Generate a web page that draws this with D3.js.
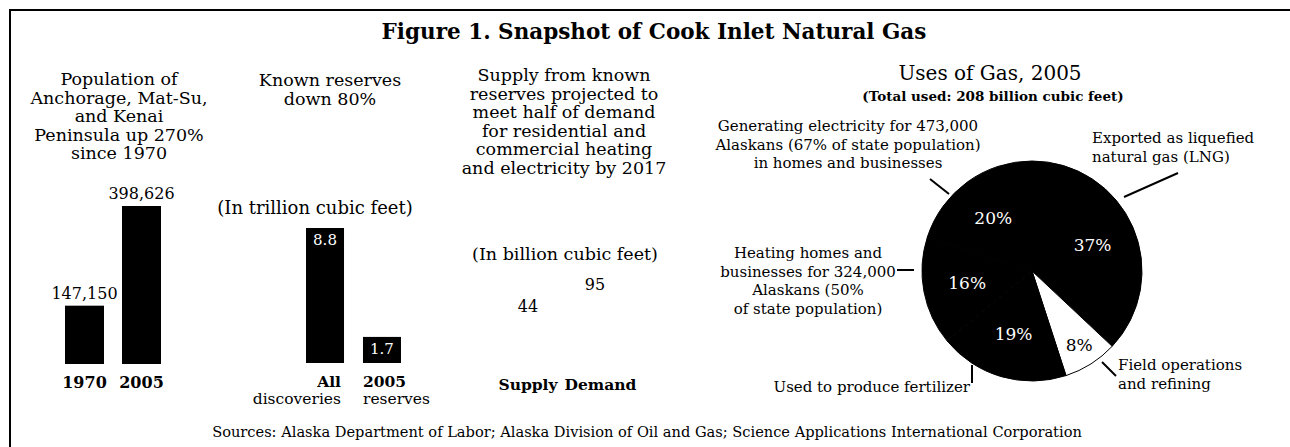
<!DOCTYPE html>
<html>
<head>
<meta charset="utf-8">
<script src="https://cdn.jsdelivr.net/npm/d3@7"></script>
<style>
  body { margin: 0; background: #fff; }
  svg text { font-family: "DejaVu Serif", serif; fill: #000; }
</style>
</head>
<body>
<div id="chart"></div>
<script>
// population of Anchorage, Mat-Su and Kenai
const popYears = ["1970", "2005"];
const popValues = [147150, 398626];
const popLabels = ["147,150", "398,626"];

// known reserves, trillion cubic feet
const reserveCats = ["All discoveries", "2005 reserves"];
const reserveValues = [8.8, 1.7];
const reserveLabels = ["8.8", "1.7"];

// supply vs demand, billion cubic feet (2017)
const supplyCats = ["Supply", "Demand"];
const supplyValues = [44, 95];

// uses of gas 2005, percent
const useNames = ["LNG", "Field", "Fertilizer", "Heating", "Electricity"];
const useShares = [37, 8, 19, 16, 20];

const W = 1290, H = 447;

const svg = d3.select("#chart")
              .append("svg")
              .attr("width", W)
              .attr("height", H);

// frame, only top and left edges show
svg.append("path")
   .attr("d", `M10,${H} L10,10 L${W},10`)
   .attr("fill", "none")
   .attr("stroke", "#000")
   .attr("stroke-width", 2);

// write a block of lines
function textBlock(x, y, arr, opts) {
    const o = Object.assign({size: 17.5, lh: 18.6, anchor: "middle", weight: "normal"}, opts);
    const t = svg.append("text")
                 .attr("x", x)
                 .attr("y", y)
                 .attr("text-anchor", o.anchor)
                 .style("font-size", o.size + "px")
                 .style("font-weight", o.weight);
    arr.forEach(function(s, i) {
        t.append("tspan")
         .attr("x", x)
         .attr("dy", i === 0 ? 0 : o.lh)
         .text(s);
    });
    return t;
}

// title
svg.append("text")
   .attr("x", 654)
   .attr("y", 39)
   .attr("text-anchor", "middle")
   .style("font-size", "21.5px")
   .style("font-weight", "bold")
   .text("Figure 1. Snapshot of Cook Inlet Natural Gas");

// ---- panel 1: population
textBlock(119, 85, ["Population of", "Anchorage, Mat-Su,", "and Kenai", "Peninsula up 270%", "since 1970"]);

const x1 = d3.scaleBand()
             .domain(popYears)
             .range([56, 170])
             .paddingInner(0.316)
             .paddingOuter(0.158);
const y1 = d3.scaleLinear()
             .domain([0, 398626])
             .range([364, 206]);

svg.selectAll(".popbar")
   .data(popValues)
   .enter()
   .append("rect")
   .attr("x", function(d, i) { return x1(popYears[i]); })
   .attr("y", function(d) { return y1(d); })
   .attr("width", x1.bandwidth())
   .attr("height", function(d) { return y1(0) - y1(d); })
   .attr("fill", "#000");

svg.selectAll(".poplab")
   .data(popValues)
   .enter()
   .append("text")
   .attr("x", function(d, i) { return x1(popYears[i]) + x1.bandwidth() / 2; })
   .attr("y", function(d) { return y1(d) - 7; })
   .attr("text-anchor", "middle")
   .style("font-size", "16px")
   .text(function(d, i) { return popLabels[i]; });

svg.selectAll(".popcat")
   .data(popYears)
   .enter()
   .append("text")
   .attr("x", function(d) { return x1(d) + x1.bandwidth() / 2; })
   .attr("y", 388)
   .attr("text-anchor", "middle")
   .style("font-size", "16px")
   .style("font-weight", "bold")
   .text(function(d) { return d; });

// ---- panel 2: reserves
textBlock(330, 86, ["Known reserves", "down 80%"]);
textBlock(315, 214, ["(In trillion cubic feet)"], {size: 18});

const x2 = d3.scaleBand()
             .domain(reserveCats)
             .range([296.5, 410.5])
             .paddingInner(0.333)
             .paddingOuter(0.167);
const y2 = d3.scaleLinear()
             .domain([0, 8.8])
             .range([363, 228]);

svg.selectAll(".resbar")
   .data(reserveValues)
   .enter()
   .append("rect")
   .attr("x", function(d, i) { return x2(reserveCats[i]); })
   .attr("y", function(d) { return y2(d); })
   .attr("width", x2.bandwidth())
   .attr("height", function(d) { return y2(0) - y2(d); })
   .attr("fill", "#000");

svg.selectAll(".reslab")
   .data(reserveValues)
   .enter()
   .append("text")
   .attr("x", function(d, i) { return x2(reserveCats[i]) + x2.bandwidth() / 2; })
   .attr("y", function(d) { return y2(d) + 17; })
   .attr("text-anchor", "middle")
   .style("font-size", "15px")
   .style("fill", "#fff")
   .text(function(d, i) { return reserveLabels[i]; });

// first category label right aligned to its bar, second left aligned
reserveCats.forEach(function(c, i) {
    const parts = c.split(" ");
    const bx = i === 0 ? x2(c) + x2.bandwidth() - 3 : x2(c);
    const anchor = i === 0 ? "end" : "start";
    svg.append("text")
       .attr("x", bx)
       .attr("y", 387)
       .attr("text-anchor", anchor)
       .style("font-size", "15.5px")
       .style("font-weight", "bold")
       .text(parts[0]);
    svg.append("text")
       .attr("x", bx)
       .attr("y", 404)
       .attr("text-anchor", anchor)
       .style("font-size", "15.5px")
       .text(parts[1]);
});

// ---- panel 3: supply / demand (bars print white in the source)
textBlock(564, 81, ["Supply from known", "reserves projected to", "meet half of demand",
                    "for residential and", "commercial heating", "and electricity by 2017"]);
textBlock(565, 260, ["(In billion cubic feet)"]);

const x3 = d3.scaleBand()
             .domain(supplyCats)
             .range([494.5, 628.5])
             .paddingInner(0.4)
             .paddingOuter(0.2);
const y3 = d3.scaleLinear()
             .domain([0, 95])
             .range([336, 295]);

svg.selectAll(".supbar")
   .data(supplyValues)
   .enter()
   .append("rect")
   .attr("x", function(d, i) { return x3(supplyCats[i]); })
   .attr("y", function(d) { return y3(d); })
   .attr("width", x3.bandwidth())
   .attr("height", function(d) { return y3(0) - y3(d); })
   .attr("fill", "#fff");

svg.selectAll(".suplab")
   .data(supplyValues)
   .enter()
   .append("text")
   .attr("x", function(d, i) { return x3(supplyCats[i]) + x3.bandwidth() / 2; })
   .attr("y", function(d) { return y3(d) - 5; })
   .attr("text-anchor", "middle")
   .style("font-size", "16px")
   .text(function(d) { return d; });

// category names sit either side of the gap between the two bands
const midGap = (x3(supplyCats[0]) + x3.bandwidth() + x3(supplyCats[1])) / 2;
svg.selectAll(".supcat")
   .data(supplyCats)
   .enter()
   .append("text")
   .attr("x", function(d, i) { return i === 0 ? midGap - 4 : midGap + 3; })
   .attr("y", 390)
   .attr("text-anchor", function(d, i) { return i === 0 ? "end" : "start"; })
   .style("font-size", "15.5px")
   .style("font-weight", "bold")
   .text(function(d) { return d; });

// ---- panel 4: pie
textBlock(990, 80, ["Uses of Gas, 2005"], {size: 20});
textBlock(993, 101, ["(Total used: 208 billion cubic feet)"], {size: 13.5, weight: "bold"});

const cx = 1032, cy = 271, R = 110;
const pie = d3.pie().sort(null).value(function(d) { return d; });
const arc = d3.arc().innerRadius(0).outerRadius(R);
const arcs = pie(useShares);

const gPie = svg.append("g").attr("transform", `translate(${cx},${cy})`);

gPie.selectAll("path")
    .data(arcs)
    .enter()
    .append("path")
    .attr("d", arc)
    .attr("fill", function(d, i) { return useNames[i] === "Field" ? "#fff" : "#000"; })
    .attr("stroke", "#000")
    .attr("stroke-width", 1);

gPie.selectAll(".pct")
    .data(arcs)
    .enter()
    .append("text")
    .attr("transform", function(d) {
        const r = d.data < 10 ? 88 : 66;
        const c = d3.arc().innerRadius(r).outerRadius(r).centroid(d);
        return `translate(${c[0]},${c[1] + 6})`;
    })
    .attr("text-anchor", "middle")
    .style("font-size", "17px")
    .style("fill", function(d) { return d.data < 10 ? "#000" : "#fff"; })
    .style("stroke", function(d) { return d.data < 10 ? "#fff" : "none"; })
    .style("stroke-width", 3)
    .style("paint-order", "stroke")
    .text(function(d) { return d.data + "%"; });

// annotations and leader lines
const note = {size: 15, lh: 18.5};
textBlock(1092, 143, ["Exported as liquefied", "natural gas (LNG)"], Object.assign({anchor: "start"}, note));
textBlock(848, 131, ["Generating electricity for 473,000", "Alaskans (67% of state population)",
                     "in homes and businesses"], note);
textBlock(808, 258, ["Heating homes and", "businesses for 324,000", "Alaskans (50%",
                     "of state population)"], note);
textBlock(970, 392, ["Used to produce fertilizer"], Object.assign({anchor: "end"}, note));
textBlock(1118, 370, ["Field operations", "and refining"], Object.assign({anchor: "start"}, note));

const leaders = [
    [[1124, 197], [1178, 173]],
    [[930, 179], [949, 194]],
    [[897, 270], [914, 270]],
    [[972, 365], [972, 383]],
    [[1102, 362], [1116, 376]]
];
svg.selectAll(".leader")
   .data(leaders)
   .enter()
   .append("path")
   .attr("d", function(d) { return d3.line()(d); })
   .attr("stroke", "#000")
   .attr("stroke-width", 2);

// sources
svg.append("text")
   .attr("x", 647)
   .attr("y", 437)
   .attr("text-anchor", "middle")
   .style("font-size", "14.6px")
   .text("Sources: Alaska Department of Labor;  Alaska Division of Oil and Gas; Science Applications International Corporation");
</script>
</body>
</html>
